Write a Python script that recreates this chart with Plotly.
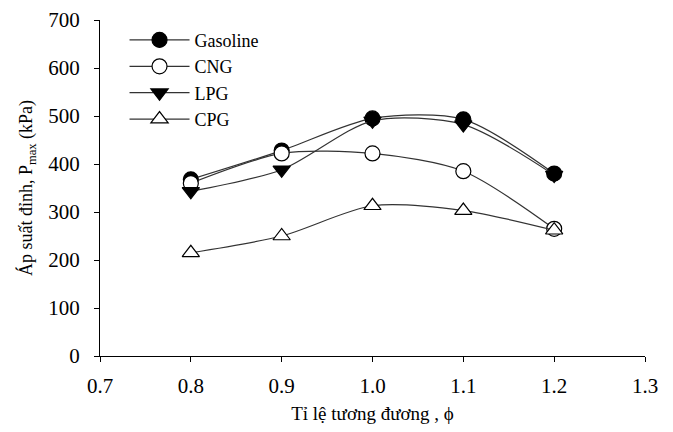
import plotly.graph_objects as go

phi = [0.8, 0.9, 1.0, 1.1, 1.2]
gasoline = [368, 428, 495, 493, 380]
cng = [360, 422, 422, 385, 265]
lpg = [343, 388, 490, 482, 377]
cpg = [215, 250, 313, 303, 262]

x_ticks = [0.7, 0.8, 0.9, 1.0, 1.1, 1.2, 1.3]
y_ticks = [0, 100, 200, 300, 400, 500, 600, 700]

FONT = "Liberation Serif, Times New Roman, serif"
INK = "#000000"

series = [
    ("Gasoline", gasoline, "circle", INK),
    ("CNG", cng, "circle", "white"),
    ("LPG", lpg, "triangle-down", INK),
    ("CPG", cpg, "triangle-up", "white"),
]

fig = go.Figure()
for name, vals, sym, fill in series:
    fig.add_trace(go.Scatter(
        x=phi, y=vals, name=name, mode="lines+markers",
        line=dict(color="#333333", width=1.2, shape="spline", smoothing=0.8),
        marker=dict(symbol=sym, size=15, color=fill, line=dict(color=INK, width=1.2)),
    ))

# page body adds ~8px around, so the figure is sized a bit smaller
fig.update_layout(
    width=665, height=416,
    paper_bgcolor="white", plot_bgcolor="white",
    font=dict(family=FONT, color=INK, size=21),
    margin=dict(l=92, r=28, t=12, b=68),
    showlegend=True,
    legend=dict(x=0.045, y=0.995, xanchor="left", yanchor="top",
                bgcolor="rgba(0,0,0,0)", font=dict(size=18, family=FONT),
                itemwidth=60, tracegroupgap=0),
    xaxis=dict(range=[0.7, 1.3], tickvals=x_ticks, tickformat=".1f",
               showgrid=False, zeroline=False, showline=True, linecolor=INK,
               linewidth=1.2, ticks="outside", ticklen=5, tickcolor=INK,
               ticklabelstandoff=6, automargin=False,
               title=dict(text="Tỉ lệ tương đương , ϕ", font=dict(size=19), standoff=25)),
    yaxis=dict(range=[0, 700], tickvals=y_ticks,
               showgrid=False, zeroline=False, showline=True, linecolor=INK,
               linewidth=1.2, ticks="outside", ticklen=5, tickcolor=INK,
               ticklabelstandoff=10, automargin=False,
               title=dict(text="Áp suất đỉnh, P<sub>max</sub> (kPa)", font=dict(size=18), standoff=10)),
)

fig.write_html("out.html")
